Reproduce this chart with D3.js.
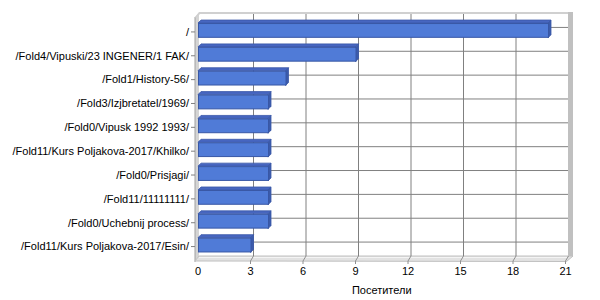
<!DOCTYPE html>
<html><head><meta charset="utf-8">
<script src="https://cdn.jsdelivr.net/npm/d3@7"></script>
<style>body{margin:0;background:#fff}svg{display:block}text{font-family:"Liberation Sans",Arial,sans-serif;font-size:11px;fill:#000}</style>
</head><body><svg id="c" width="600" height="300"></svg>
<script>
const categories = ["/", "/Fold4/Vipuski/23 INGENER/1 FAK/", "/Fold1/History-56/", "/Fold3/Izjbretatel/1969/", "/Fold0/Vipusk 1992 1993/", "/Fold11/Kurs Poljakova-2017/Khilko/", "/Fold0/Prisjagi/", "/Fold11/11111111/", "/Fold0/Uchebnij process/", "/Fold11/Kurs Poljakova-2017/Esin/"];
const visitors = [20, 9, 5, 4, 4, 4, 4, 4, 4, 3];
const xTicks = [0, 3, 6, 9, 12, 15, 18, 21];
const axisTitle = "Посетители";

const svg = d3.select("#c");
const D = 3; // depth offset
const x = d3.scaleLinear().domain([0, 21]).range([198, 565.5]);
const y = d3.scaleBand().domain(categories).range([18.5, 257]).paddingInner(0.38).paddingOuter(0.19);
const cy = c => y(c) + y.bandwidth() / 2;
const wallTop = 13, floorBack = 256, floorFront = 261;
const leftFront = 195, leftBack = 199, rightBack = 568;

// back wall
svg.append("rect").attr("x", leftBack).attr("y", wallTop).attr("width", rightBack - leftBack).attr("height", floorBack - wallTop).attr("fill", "#fff");
// left wall
svg.append("polygon").attr("points", `${leftFront},${wallTop+4} ${leftBack},${wallTop} ${leftBack},${floorBack} ${leftFront},${floorFront}`).attr("fill", "#d4d4d4");
svg.append("line").attr("x1", leftFront).attr("x2", leftFront).attr("y1", wallTop + 4).attr("y2", floorFront + 1).attr("stroke", "#a0a0a0");
// wall top edge
svg.append("polygon").attr("points", `${leftFront},${wallTop+4} ${leftBack},${wallTop-1} ${rightBack+5},${wallTop-1} ${rightBack+5},${wallTop+1} ${leftBack+1},${wallTop+1} ${leftFront+1},${wallTop+5}`).attr("fill", "#d0d0d0");
// right wall
svg.append("rect").attr("x", rightBack).attr("y", wallTop - 1).attr("width", 5).attr("height", floorBack - wallTop + 1).attr("fill", "#c0c0c0");
// floor
svg.append("polygon").attr("points", `${leftFront},${floorFront} ${leftBack},${floorBack} ${rightBack+5},${floorBack} ${x(21)+1},${floorFront+0.5}`).attr("fill", "#e2e2e2").attr("stroke", "#c0c0c0");
svg.append("line").attr("x1", leftBack).attr("x2", rightBack).attr("y1", floorBack + 1.5).attr("y2", floorBack + 1.5).attr("stroke", "#f4f4f4");

// grid lines
const g = svg.append("g");
g.selectAll("line.v").data(xTicks.filter(t => t > 0 && t < 21)).join("line")
  .attr("x1", d => x(d) + D).attr("x2", d => x(d) + D).attr("y1", wallTop + 1).attr("y2", floorBack)
  .attr("stroke", "#808080");
g.selectAll("line.h").data(categories).join("line")
  .attr("x1", leftBack).attr("x2", rightBack).attr("y1", d => cy(d) - D).attr("y2", d => cy(d) - D)
  .attr("stroke", "#808080");

// x ticks (slanted through floor)
svg.selectAll("path.xt").data(xTicks.filter(t => t > 0)).join("path")
  .attr("d", d => `M${x(d) + D},${floorBack} L${x(d)},${floorFront} L${x(d)},${floorFront + 3}`)
  .attr("fill", "none").attr("stroke", "#909090");

// bars
const bars = svg.append("g").selectAll("g").data(categories.map((c, i) => ({ c, v: visitors[i] }))).join("g");
bars.append("polygon").attr("points", d => {
  const x0 = x(0), x1 = x(d.v), yt = y(d.c);
  return `${x0},${yt} ${x1},${yt} ${x1 + D},${yt - D} ${x0 + D},${yt - D}`;
}).attr("fill", "#4766c0").attr("stroke", "#3a58a8").attr("stroke-width", 0.8);
bars.append("polygon").attr("points", d => {
  const x1 = x(d.v), yt = y(d.c), yb = yt + y.bandwidth();
  return `${x1},${yt} ${x1 + D},${yt - D} ${x1 + D},${yb - D} ${x1},${yb}`;
}).attr("fill", "#3b5bab").attr("stroke", "#3a58a8").attr("stroke-width", 0.8);
bars.append("rect").attr("x", x(0) + 0.5).attr("y", d => y(d.c) + 0.5)
  .attr("width", d => x(d.v) - x(0)).attr("height", y.bandwidth() - 1)
  .attr("fill", "#507bd7").attr("stroke", "#3857a5");

// y axis ticks + labels
svg.selectAll("line.yt").data(categories).join("line")
  .attr("x1", 191).attr("x2", leftFront).attr("y1", d => cy(d) + 1.5).attr("y2", d => cy(d) + 1.5).attr("stroke", "#808080");
svg.selectAll("text.yl").data(categories).join("text")
  .attr("x", 189).attr("y", d => cy(d) + 1.5).attr("dy", "0.35em").attr("text-anchor", "end").text(d => d);

// x labels
svg.selectAll("text.xl").data(xTicks).join("text")
  .attr("x", d => x(d)).attr("y", 274.5).attr("text-anchor", "middle").text(d => d);
svg.append("text").attr("x", (x(0) + x(21)) / 2).attr("y", 294).attr("text-anchor", "middle").text(axisTitle);
</script></body></html>
